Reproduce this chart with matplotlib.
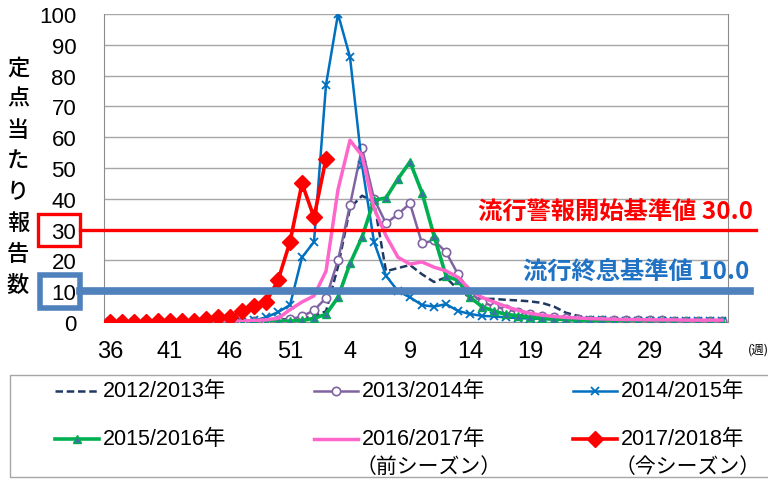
import matplotlib
matplotlib.use("Agg")
import numpy as np
from matplotlib import pyplot as plt
from matplotlib.patches import Rectangle

plt.rcParams["font.family"] = ["Liberation Sans", "Noto Sans CJK JP", "DejaVu Sans"]

weeks = list(range(36, 53)) + list(range(1, 36))

s2012 = [0.1] * 10 + [0.2, 0.2, 0.3, 0.5, 0.8, 1.0, 1.3] + [
    1.8, 3.5, 18, 37, 41, 39, 16.5, 17.5, 18.5, 15.5, 13, 14.5, 10.5, 8, 7.5,
    7.5, 7.2, 7, 6.7, 6.2, 5, 3, 2, 1.2, 0.9, 0.8, 0.7, 0.6, 0.6, 0.5, 0.5,
    0.5, 0.5, 0.5, 0.5]
s2013 = [0.1] * 12 + [0.2, 0.3, 0.5, 0.9, 1.8] + [
    3.8, 7.8, 20, 38, 56.5, 40, 32, 35, 38.5, 25.5, 26.5, 22.7, 15.5, 9.5, 6.5,
    5, 4.2, 3.2, 2.5, 2, 1.5, 1.2, 1, 0.8, 0.7, 0.6, 0.6, 0.5, 0.5, 0.5, 0.4,
    0.4, 0.4, 0.4, 0.4]
s2014 = [0.1] * 12 + [0.5, 1.5, 3.2, 5.5, 21] + [
    26, 77, 100, 86, 51, 26, 15, 10, 8, 5.5, 5, 5.8, 3.6, 2.6, 2, 1.8, 1.5,
    1.3, 1.1, 1, 0.8, 0.7, 0.6, 0.5, 0.5, 0.4, 0.4, 0.4, 0.3, 0.3, 0.3, 0.3,
    0.3, 0.3, 0.3]
s2015 = [0.1] * 14 + [0.2, 0.3, 0.5] + [
    1.2, 2.5, 8, 19, 27.5, 39.5, 40.3, 46.5, 52, 42, 28, 15, 13.5, 8, 5, 3.5,
    2.5, 2, 1.5, 1.2, 1, 0.8, 0.6, 0.5, 0.5, 0.4, 0.4, 0.4, 0.3, 0.3, 0.3, 0.3,
    0.3, 0.3, 0.3]
s2016 = [0.1] * 10 + [0.2, 0.3, 0.5, 0.7, 1.2, 4, 6.5] + [
    8.5, 16.5, 43, 59, 54, 37, 28, 21, 18.8, 19.5, 17.8, 16.6, 14.5, 10.5, 8,
    6.5, 5, 3.8, 2.8, 2.2, 1.8, 1.5, 1.3, 1.1, 1, 0.9, 0.8, 0.8, 0.7, 0.7, 0.7,
    0.6, 0.6, 0.6, 0.6]
s2017 = [0.1, 0.1, 0.1, 0.1, 0.2, 0.2, 0.3, 0.3, 1.0, 1.6, 1.6, 3.5, 5.3, 6.5,
         13.5, 26, 45, 34, 53]

alarm_level = 30.0
end_level = 10.0

series = [
    ("2012/2013年", s2012, dict(color="#1F3864", lw=1.8, ls=(0, (3, 1.5)))),
    ("2013/2014年", s2013, dict(color="#8064A2", lw=1.8, marker="o", ms=6,
                               mfc="white", mec="#8064A2", mew=1.2)),
    ("2014/2015年", s2014, dict(color="#0070C0", lw=1.8, marker="x", ms=6, mew=1.3)),
    ("2015/2016年", s2015, dict(color="#00B050", lw=2.6, marker="^", ms=6,
                               mfc="#3F6FA8", mec="#00B050", mew=1)),
    ("2016/2017年", s2016, dict(color="#FF66CC", lw=2.5)),
    ("2017/2018年", s2017, dict(color="#FF0000", lw=2.6, marker="D", ms=8,
                               mfc="#FF0000", mec="#FF0000")),
]
notes = {"2016/2017年": "（前シーズン）", "2017/2018年": "（今シーズン）"}

fig = plt.figure(figsize=(7.68, 4.81), dpi=100)
ax = fig.add_axes([104 / 768, 1 - 323 / 481, 624 / 768, 308 / 481])

for name, vals, st in series:
    ax.plot(np.arange(len(vals)), vals, zorder=3, **st)

ax.set_xlim(-0.5, len(weeks) - 0.5)
ax.set_ylim(0, 100)
ax.set_yticks(range(0, 101, 10))
ax.set_xticks(range(0, len(weeks), 5))
ax.set_xticklabels([str(weeks[i]) for i in range(0, len(weeks), 5)])
ax.tick_params(axis="x", length=0, pad=13, labelsize=17)
ax.tick_params(axis="y", length=0, pad=20, labelsize=16)
ax.grid(axis="y", color="#A6A6A6", lw=1)
ax.set_axisbelow(True)
for side in ["left", "bottom", "right", "top"]:
    ax.spines[side].set_color("#8C8C8C")
ax.spines["top"].set_visible(False)

# threshold lines and boxes around the tick labels
yt = ax.get_yaxis_transform()
ax.plot([-0.038, 1.045], [alarm_level, alarm_level], color="#FF0000", lw=2.4,
        transform=yt, clip_on=False, zorder=5)
ax.plot([-0.038, 1.035], [end_level, end_level], color="#4F81BD", lw=5.5,
        transform=yt, clip_on=False, zorder=5)
ax.add_patch(Rectangle((-0.106, alarm_level - 5.4), 0.068, 10.6, transform=yt,
                       fill=False, ec="#FF0000", lw=2.4, clip_on=False))
ax.add_patch(Rectangle((-0.103, end_level - 5.4), 0.065, 10.6, transform=yt,
                       fill=False, ec="#4F81BD", lw=4, clip_on=False))
ax.text(1.04, alarm_level + 2.0, f"流行警報開始基準値 {alarm_level:.1f}", transform=yt,
        ha="right", va="bottom", color="#FF0000", fontsize=17.5, fontweight="bold",
        family=["Noto Sans CJK JP"])
ax.text(1.035, end_level + 2.6, f"流行終息基準値 {end_level:.1f}", transform=yt,
        ha="right", va="bottom", color="#1F72C4", fontsize=17.5, fontweight="bold",
        family=["Noto Sans CJK JP"])

# overlay in pixel units for the side labels and legend
lax = fig.add_axes([0, 0, 1, 1], zorder=-1)
lax.set_xlim(0, 768)
lax.set_ylim(481, 0)
lax.axis("off")

for i, ch in enumerate("定点当たり報告数"):
    lax.text(18, 68 + i * 31.1, ch, ha="center", va="center", fontsize=16,
             fontweight="medium", family=["Noto Sans CJK JP"])
lax.text(748, 350, "(週)", ha="left", va="center", fontsize=9,
         family=["Noto Sans CJK JP"])

lax.add_patch(Rectangle((10, 376), 760, 102, fill=False, ec="#A6A6A6", lw=1))
col_x = [55, 314, 573]
row_y = [392, 440]
for k, (name, vals, st) in enumerate(series):
    x0 = col_x[k % 3]
    y0 = row_y[k // 3]
    lax.plot([x0, x0 + 44], [y0, y0], **{key: v for key, v in st.items()
                                           if key not in ("marker", "ms", "mfc", "mec", "mew")})
    if "marker" in st:
        lax.plot([x0 + 22], [y0], ls="none", **{key: v for key, v in st.items()
                                                if key not in ("lw", "ls")})
    lax.text(x0 + 48, y0, name, ha="left", va="center", fontsize=15.5)
    if name in notes:
        lax.text(x0 + 42, y0 + 27, notes[name], ha="left", va="center",
                 fontsize=15, family=["Noto Sans CJK JP"])

fig.savefig("out.png", dpi=100)
